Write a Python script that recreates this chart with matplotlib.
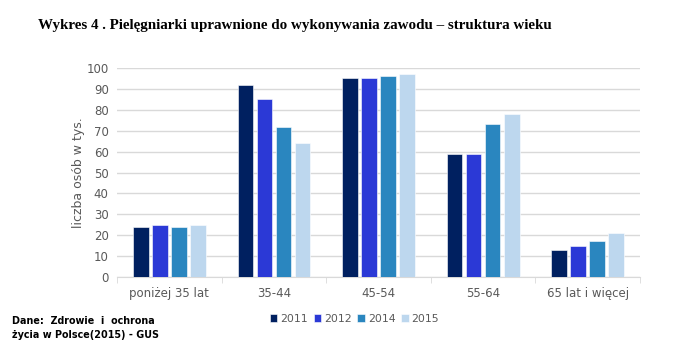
import matplotlib.pyplot as plt
import numpy as np

CATEGORIES = ["poniżej 35 lat", "35-44", "45-54", "55-64", "65 lat i więcej"]
YEARS = ["2011", "2012", "2014", "2015"]
VALUES_2011 = [24, 92, 95, 59, 13]
VALUES_2012 = [25, 85, 95, 59, 15]
VALUES_2014 = [24, 72, 96, 73, 17]
VALUES_2015 = [25, 64, 97, 78, 21]
SERIES = [VALUES_2011, VALUES_2012, VALUES_2014, VALUES_2015]
COLORS = ["#002060", "#2B39D6", "#2A86BF", "#BDD7EE"]
GRAY = "#595959"


def run() -> None:
    fig = plt.figure(figsize=(6.99, 3.48), dpi=100)
    ax = fig.add_axes((0.1674, 0.204, 0.7482, 0.6006))

    x = np.arange(len(CATEGORIES))
    step = 0.182
    width = 0.15
    for i, (vals, year) in enumerate(zip(SERIES, YEARS)):
        offs = (i - 1.5) * step
        ax.bar(x + offs, vals, width=width, color=COLORS[i], label=year,
               edgecolor="white", linewidth=0.4, zorder=3)

    ax.set_xlim(-0.5, len(CATEGORIES) - 0.5)
    ax.set_ylim(0, 100)
    ax.set_yticks(range(0, 101, 10))
    ax.yaxis.grid(True, color="#D9D9D9", linewidth=1, zorder=0)
    ax.tick_params(axis="y", length=0, labelsize=8.5, labelcolor=GRAY, pad=6)
    ax.set_xticks(x)
    ax.set_xticklabels(CATEGORIES, fontsize=8.5, color=GRAY)
    ax.set_xticks(np.arange(-0.5, len(CATEGORIES)), minor=True)
    ax.tick_params(axis="x", which="major", length=0, pad=7)
    ax.tick_params(axis="x", which="minor", length=4, color="#D9D9D9")
    for s in ["top", "right", "left"]:
        ax.spines[s].set_visible(False)
    ax.spines["bottom"].set_color("#D9D9D9")
    ax.set_ylabel("liczba osób w tys.", fontsize=9, color=GRAY, labelpad=1)

    fig.text(0.054, 0.927, "Wykres 4 . Pielęgniarki uprawnione do wykonywania "
             "zawodu – struktura wieku", family="Liberation Serif",
             fontweight="bold", fontsize=10.8, va="center")

    ax.legend(loc="upper center", bbox_to_anchor=(0.454, -0.13), ncol=4,
              frameon=False, fontsize=7.8, handlelength=0.7, handleheight=0.7,
              handletextpad=0.25, columnspacing=0.55, labelcolor=GRAY)

    fig.text(0.017, 0.058, "Dane:  Zdrowie  i  ochrona\nżycia w Polsce(2015) - GUS",
             fontweight="bold", fontsize=6.9, va="center", linespacing=1.45)

    fig.savefig("out.png", dpi=100)
    plt.close(fig)


if __name__ == "__main__":
    run()
